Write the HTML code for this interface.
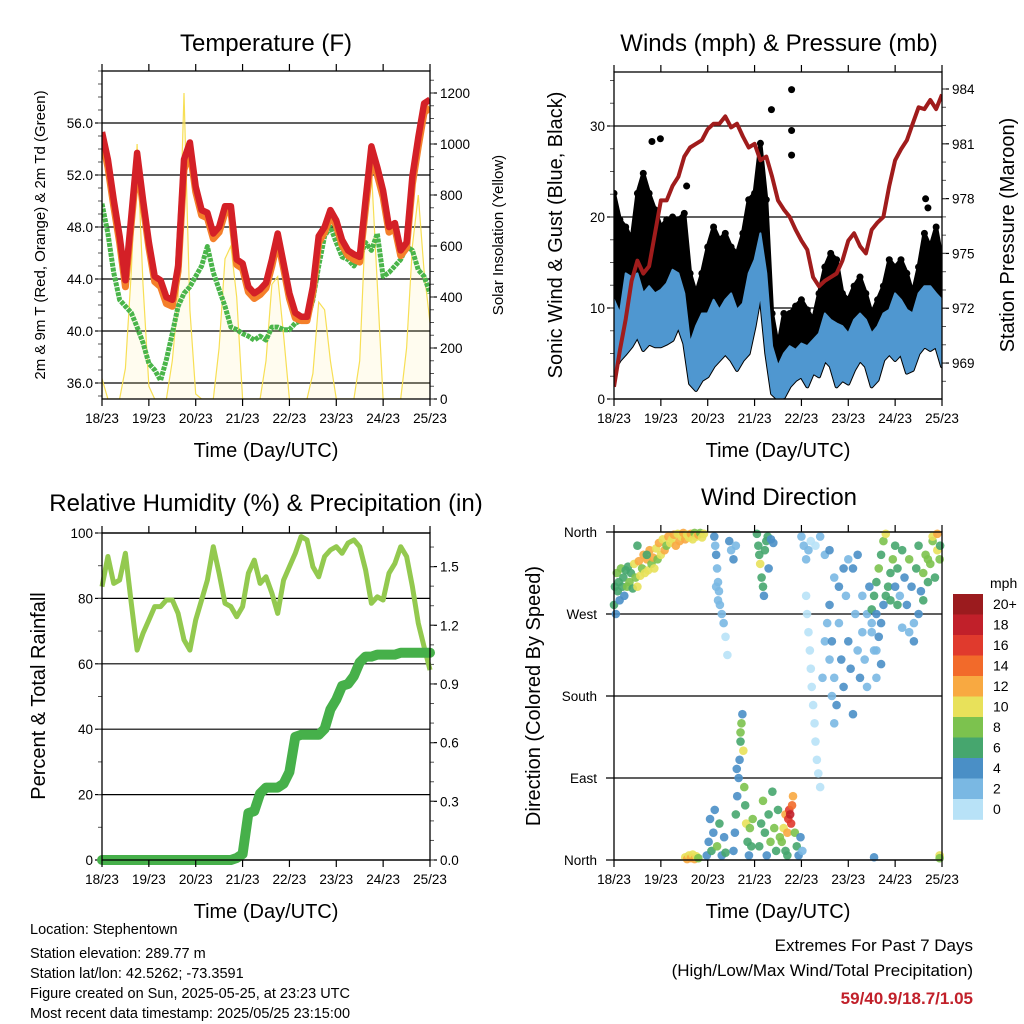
<!DOCTYPE html>
<html><head><meta charset="utf-8"><title>Station Meteogram</title>
<style>
html,body{margin:0;padding:0;background:#fff}
svg{display:block;font-family:"Liberation Sans",Arial,sans-serif}
</style></head>
<body>
<svg id="chart" width="1024" height="1024" viewBox="0 0 1024 1024" xmlns="http://www.w3.org/2000/svg">
<rect width="1024" height="1024" fill="#fff"/>
<g id="p1"></g>
<g id="p2"></g>
<g id="p3"></g>
<g id="p4"></g>
<g font-size="14.5" fill="#000">
<text x="30" y="934">Location: Stephentown</text>
<text x="30" y="958">Station elevation: 289.77 m</text>
<text x="30" y="978">Station lat/lon: 42.5262; -73.3591</text>
<text x="30" y="998">Figure created on Sun, 2025-05-25, at 23:23 UTC</text>
<text x="30" y="1018">Most recent data timestamp: 2025/05/25 23:15:00</text>
</g>
<g text-anchor="end">
<text x="973" y="951" font-size="17">Extremes For Past 7 Days</text>
<text x="973" y="976" font-size="17">(High/Low/Max Wind/Total Precipitation)</text>
<text x="973" y="1004" font-size="17" font-weight="bold" fill="#c1202a">59/40.9/18.7/1.05</text>
</g>
</svg>
<script>
// ---- shared time axis ----
const dayLabels = ["18/23","19/23","20/23","21/23","22/23","23/23","24/23","25/23"];
// ---- temperature panel data (3-hour steps, days 0..7) ----
const temp2m = [55.3,53.2,50.1,47.3,43.9,48.8,53.7,50.1,46.8,44.2,43.9,42.6,42.4,45.0,53.2,54.5,51.1,49.3,49.1,47.5,48.0,49.6,49.6,45.5,45.2,43.4,42.9,43.2,43.7,45.5,47.5,45.2,42.9,41.4,41.1,41.1,43.4,47.3,48.0,49.3,48.5,47.0,46.2,45.9,45.7,50.1,54.2,52.6,50.8,48.0,48.3,46.2,46.8,51.9,54.9,57.5,57.8];
const temp9m = [54.8,52.6,49.6,46.8,43.4,48.3,53.0,49.7,46.4,43.8,43.4,42.1,41.9,44.6,52.4,53.9,50.7,48.9,48.7,47.1,47.6,49.1,49.2,45.1,44.8,43.0,42.5,42.8,43.3,45.0,47.0,44.8,42.5,41.0,40.8,40.8,43.0,46.8,47.6,48.9,48.1,46.6,45.8,45.5,45.3,49.5,53.4,52.0,50.3,47.6,47.9,45.8,46.4,51.3,54.2,56.8,57.2];
const dewpoint = [49.8,47.5,44.5,42.4,41.9,41.4,40.3,39.1,37.5,37.0,36.2,37.8,39.8,41.9,42.9,43.4,44.2,45.0,46.5,44.5,43.2,41.9,40.3,40.1,39.8,39.6,39.3,39.6,39.3,40.3,40.3,40.1,40.1,40.6,40.8,40.8,42.4,45.0,47.3,48.0,46.8,45.7,45.5,45.0,45.7,46.8,46.2,47.5,44.2,44.5,45.0,45.5,46.5,46.2,44.7,44.2,42.9];
const solar = [80,0,0,0,120,500,1000,450, 50,0,0,0,150,400,1200,350, 20,0,0,0,200,550,600,400, 0,0,0,0,150,450,480,250, 0,0,0,0,100,380,350,150, 0,0,0,0,150,700,900,450, 0,0,0,0,200,600,800,500, 300];
const tempTicks = [36,40,44,48,52,56];
const solarTicks = [0,200,400,600,800,1000,1200];
// ---- winds panel data ----
const pressure = [967.7,969.7,971.4,973.5,974.6,973.9,974.3,976.1,977.9,977.9,978.7,979.2,980.3,980.8,981.0,981.2,981.8,982.1,982.1,982.5,981.9,982.1,981.4,980.8,981.0,980.1,980.3,979.2,977.9,977.4,977.0,976.3,975.7,975.2,973.7,973.2,973.5,973.7,973.9,974.6,975.7,976.1,975.4,975.0,976.3,976.7,977.0,978.7,980.1,980.7,981.2,982.1,983.0,982.9,983.4,982.9,983.7];
const sonicHigh = [10.9,9.4,13.8,13.4,13.8,11.6,12.4,11.6,12.0,12.7,14.2,13.8,11.6,6.1,8.0,9.4,9.4,10.9,9.8,10.9,11.6,9.8,10.5,13.8,15.3,18.2,13.8,5.8,3.6,5.0,5.8,5.4,6.1,5.8,6.5,7.2,9.4,8.7,8.3,8.0,7.2,8.7,9.4,8.7,7.2,8.0,9.4,9.8,11.6,10.9,9.8,9.4,11.6,12.4,12.4,11.6,10.9];
const sonicLow = [3.2,4.3,5.0,5.8,6.9,5.4,6.1,5.8,5.8,6.1,6.5,8.0,6.1,1.7,1.0,2.1,2.5,3.6,4.3,5.0,4.3,3.2,4.3,5.0,8.0,11.6,5.0,0.6,0.0,0.2,1.4,2.1,2.5,1.4,2.9,2.5,4.3,3.6,1.4,2.1,1.7,3.2,4.3,3.6,1.4,2.1,4.3,5.0,4.3,5.0,2.9,3.2,5.0,5.8,5.4,5.8,3.6];
const gustHigh = [22.6,19.7,18.9,17.5,22.6,24.8,22.6,20.8,18.9,19.7,20.0,19.7,20.4,13.8,11.6,13.8,16.7,18.9,17.5,18.2,16.7,16.0,18.2,21.9,22.6,28.1,21.9,9.4,5.8,9.4,9.4,10.2,10.9,9.8,8.7,11.6,14.5,16.0,15.3,11.6,10.9,12.4,13.4,11.6,9.4,10.9,12.4,15.3,14.5,15.3,13.8,11.6,14.5,18.2,16.7,18.9,15.3];
const gustOutlierDay = [0.81,0.99,3.36,3.79,3.79,3.79,1.55,6.65,6.7];
const gustOutlierMph = [28.3,28.6,31.8,34.0,29.5,26.8,23.4,22.0,21.0];
const windTicks = [0,10,20,30];
const pressureTicks = [969,972,975,978,981,984];
// ---- humidity panel data ----
const humidity = [83.6,92.8,84.6,85.6,93.8,78.5,64.2,69.3,73.4,77.5,77.5,79.5,79.5,75.4,67.3,64.2,73.4,79.5,85.6,95.8,87.7,78.5,77.5,74.4,77.5,87.7,91.7,84.6,86.6,81.6,75.4,85.6,89.7,93.8,98.9,97.9,89.7,86.6,92.8,94.8,95.8,93.8,96.9,97.9,95.8,88.7,78.5,80.5,79.5,87.7,90.7,95.8,92.8,83.6,72.4,65.2,58.1];
const rainfall = [0,0,0,0,0,0,0,0,0,0,0,0,0,0,0,0,0,0,0,0,0,0,0,0.01,0.03,0.24,0.25,0.34,0.37,0.37,0.37,0.39,0.45,0.63,0.64,0.64,0.64,0.64,0.67,0.77,0.82,0.89,0.90,0.94,1.01,1.04,1.04,1.05,1.05,1.05,1.05,1.06,1.06,1.06,1.06,1.06,1.06];
const humidityTicks = [0,20,40,60,80,100];
const rainTicks = [0.0,0.3,0.6,0.9,1.2,1.5];
// ---- wind direction panel data ----
const dirDay = [
0.0,0.02,0.04,0.06,0.08,0.1,0.12,0.15,0.18,0.2, 0.22,0.25,0.28,0.3,0.33,0.36,0.4,0.43,0.46,0.5, 0.53,0.56,0.6,0.63,0.66,0.7,0.73,0.76,0.8,0.83, 0.86,0.9,0.93,0.96,1.0,1.04,1.08,1.12,1.16,1.2, 1.24,1.28,1.32,1.36,1.4,1.44,1.48,1.52,1.56,1.6, 1.64,1.68,1.72,1.76,1.8,1.84,1.88,1.92,0.5,0.7,
1.52,1.56,1.6,1.64,1.68,1.72,1.76,1.8,
2.14,2.16,2.18,2.2,2.22,2.24,2.26,2.3,2.34,2.38,2.42,2.46,2.5,2.55,2.6,2.18,2.22,
1.98,2.02,2.05,2.08,2.12,2.15,2.2,2.25,2.3,2.35,2.38,
2.55,2.58,2.6,2.63,2.66,2.68,2.7,2.72,2.74,2.76,2.78,2.8,2.82,2.85,2.88,2.9,2.93,2.96,2.62,2.7,
3.05,3.08,3.1,3.12,3.15,3.18,3.2,3.22,3.25,3.28,3.3,3.35,3.4,
3.1,3.14,3.18,3.22,3.26,3.3,3.34,3.38,3.42,3.46,3.5,3.54,
3.58,3.62,3.66,3.7,3.72,3.74,3.76,3.78,3.8,3.82,3.86,3.9,3.94,3.98,4.02,3.66,3.7,
4.0,4.05,4.1,4.15,4.2,4.3,4.4,4.5,4.6,
4.1,4.12,4.15,4.18,4.2,4.22,4.25,4.28,4.3,4.33,4.36,4.4,4.45,4.5,4.55,4.6,4.65,4.7,
4.6,4.65,4.7,4.75,4.8,4.85,4.9,4.95,5.0,5.05,5.1,5.15,5.2,5.25,5.3,5.35,5.4,5.45,5.5,5.55,5.6,5.65,5.7,5.75,4.7,4.8,4.9,5.0,5.1,5.2,5.3,5.4,5.5,5.6,
5.5,5.55,5.6,5.65,5.7,5.75,5.8,5.85,5.9,5.95,6.0,6.05,5.6,5.7,5.8,5.9,
6.0,6.05,6.1,6.15,6.2,6.25,6.3,6.35,6.4,6.45,6.5,6.55,6.6,6.65,6.7,6.75,6.8,6.85,6.9,6.95,6.3,6.4,6.5,6.6,6.7,6.8,6.9,6.96,6.95,6.15,
5.55,6.95];
const dirDeg = [
280,300,270,315,295,305,285,320,300,310, 290,318,300,322,305,315,298,325,310,300, 328,312,320,335,315,330,318,340,325,332, 320,342,330,348,335,352,340,345,355,348, 352,357,345,358,350,355,359,352,357,354, 358,352,359,355,357,359,354,358,345,335,
3,1,5,2,6,1,4,2,
355,345,335,320,305,295,280,270,260,245,225,350,340,330,345,300,285,
5,20,45,10,30,55,15,40,5,25,8,
10,30,50,70,90,110,130,150,160,120,80,60,40,20,5,35,15,45,100,140,
358,345,335,325,310,300,290,340,350,355,320,352,348,
15,40,65,30,5,50,20,75,35,10,55,25,
20,35,50,30,45,55,50,40,60,70,30,15,5,25,10,10,5,
355,345,330,340,350,345,355,335,340,
290,270,250,230,210,190,170,150,130,110,95,80,200,240,260,220,180,150,
280,240,200,170,260,220,190,290,240,210,160,270,230,200,250,220,190,300,260,230,200,245,215,280,310,300,320,330,320,335,290,270,250,230,
275,290,305,320,335,350,358,300,285,330,345,280,270,260,290,315,
300,320,290,340,310,280,330,300,260,320,345,295,315,335,305,325,350,310,340,330,250,240,270,285,330,355,358,345,5,255,
3,2];
const dirSpeed = [
6,7,5,8,6,7,5,8,7,6, 5,7,8,6,9,7,6,10,8,11, 12,10,9,13,11,12,10,12,9,13, 11,10,8,12,10,11,13,9,12,10, 11,12,13,10,12,11,12,13,10,11, 12,11,9,10,12,8,11,10,6,7,
11,12,10,12,11,13,10,9,
4,3,4,3,2,3,2,2,3,1,1,4,3,4,3,2,3,
5,4,5,7,4,5,8,7,5,4,6,
5,4,6,4,5,4,6,9,5,11,8,7,10,6,4,8,7,9,4,8,
7,6,7,10,6,7,5,6,7,6,4,5,4,
6,7,8,6,5,7,8,6,9,7,6,8,
9,10,12,13,16,17,18,17,14,12,8,6,5,4,3,6,7,
3,2,3,3,1,1,2,3,4,
1,1,1,0,1,1,1,1,1,1,1,1,2,2,3,2,3,2,
4,4,3,4,3,4,4,3,4,4,4,3,3,4,3,3,2,4,3,2,3,4,4,4,3,4,4,3,4,4,3,2,2,3,
6,7,6,8,7,9,10,7,6,8,7,6,5,4,6,7,
4,6,3,7,4,5,8,4,3,6,7,4,8,9,6,8,9,7,10,8,3,4,5,6,8,11,12,7,10,3,
4,9];
const speedBinLabels = ["20+","18","16","14","12","10","8","6","4","2","0"];
const speedBinColors = ["#9b1b1e","#c1202a","#e03a2d","#f26a2a","#f8a941","#e8e15a","#7cc24e","#46a66e","#4a8fc6","#7ab8e3","#b8e2f7"];
const dirTickLabels = ["North","East","South","West","North"];
const dirTickValues = [0,90,180,270,360];

// ---------------- drawing ----------------
const NS = "http://www.w3.org/2000/svg";
function mk(parent, tag, attrs) {
  const el = document.createElementNS(NS, tag);
  for (const k in attrs) el.setAttribute(k, attrs[k]);
  parent.appendChild(el);
  return el;
}
function txt(parent, x, y, s, size, anchor, name, extra) {
  const t = mk(parent, "text", Object.assign({x: x, y: y, "font-size": size, "text-anchor": anchor || "middle"}, extra || {}));
  t.textContent = s;
  
  
  return t;
}
function frame(g, P, name) {
  const xs = d => P.x0 + d * (P.x1 - P.x0) / 7;
  for (let i = 0; i < dayLabels.length; i++) {
    const x = xs(i);
    const t1 = mk(g, "line", {x1: x, y1: P.y1, x2: x, y2: P.y1 + 7, stroke: "#000", "stroke-width": 1.2});
    
    
    const t2 = mk(g, "line", {x1: x, y1: P.y0, x2: x, y2: P.y0 - 7, stroke: "#000", "stroke-width": 1.2});
    
    
    txt(g, x, P.y1 + 24, dayLabels[i], 13.5, "middle", "x-tick-label");
  }
  const b = mk(g, "rect", {x: P.x0, y: P.y0, width: P.x1 - P.x0, height: P.y1 - P.y0, fill: "none", stroke: "#000", "stroke-width": 1.3});
  
  
  txt(g, (P.x0 + P.x1) / 2, P.y1 + 58, "Time (Day/UTC)", 20, "middle", "x-axis-title");
  return xs;
}
function leftAxis(g, P, ticks, ys, fmt, minorStep, grid) {
  for (const v of ticks) {
    const y = ys(v);
    if (grid) {
      const gl = mk(g, "line", {x1: P.x0, y1: y, x2: P.x1, y2: y, stroke: "#000", "stroke-width": 1.2});
      
      
    }
    const t = mk(g, "line", {x1: P.x0, y1: y, x2: P.x0 - 7, y2: y, stroke: "#000", "stroke-width": 1.2});
    
    
    txt(g, P.x0 - 9, y + 5, fmt(v), 13.5, "end", "y-tick-label");
  }
  if (minorStep) {
    const lo = Math.min(...ticks), hi = Math.max(...ticks);
    for (let v = lo - minorStep * 4; v <= hi + minorStep * 4; v += minorStep) {
      const y = ys(v);
      if (y < P.y0 || y > P.y1) continue;
      const t = mk(g, "line", {x1: P.x0, y1: y, x2: P.x0 - 4, y2: y, stroke: "#555", "stroke-width": 1});
      
      
    }
  }
}
function rightAxis(g, P, ticks, ys, fmt, minorStep) {
  for (const v of ticks) {
    const y = ys(v);
    const t = mk(g, "line", {x1: P.x1, y1: y, x2: P.x1 + 7, y2: y, stroke: "#000", "stroke-width": 1.2});
    
    
    txt(g, P.x1 + 10, y + 5, fmt(v), 13.5, "start", "y2-tick-label");
  }
  if (minorStep) {
    const lo = Math.min(...ticks), hi = Math.max(...ticks);
    for (let v = lo - minorStep * 6; v <= hi + minorStep * 6; v += minorStep) {
      const y = ys(v);
      if (y < P.y0 || y > P.y1) continue;
      const t = mk(g, "line", {x1: P.x1, y1: y, x2: P.x1 + 4, y2: y, stroke: "#555", "stroke-width": 1});
      
      
    }
  }
}
function pts(arr, xs, ys) {
  const step = 7 / (arr.length - 1);
  return arr.map((v, i) => xs(i * step).toFixed(1) + "," + ys(v).toFixed(1));
}
function rotTitle(g, x, y, s, size, name) {
  return txt(g, x, y, s, size, "middle", name, {transform: "rotate(-90 " + x + " " + y + ")"});
}

// ===== Panel 1: temperature =====
(function () {
  const g = document.getElementById("p1");
  const P = {x0: 102, x1: 430, y0: 71, y1: 399};
  const ys = T => 123 + (56 - T) * 13;
  const ysW = W => 399 - W * 0.255;
  const xsf = d => P.x0 + d * (P.x1 - P.x0) / 7;
  txt(g, 266, 51, "Temperature (F)", 24, "middle", "chart-title");
  const clip = mk(g, "clipPath", {id: "c1"});
  mk(clip, "rect", {x: P.x0, y: P.y0, width: P.x1 - P.x0, height: P.y1 - P.y0});
  leftAxis(g, P, tempTicks, ys, v => v.toFixed(1), 1, true);
  rightAxis(g, P, solarTicks, ysW, v => String(v), 50);
  const sg = mk(g, "g", {"clip-path": "url(#c1)"});
  const sp = pts(solar, xsf, ysW);
  const sa = mk(sg, "polygon", {points: xsf(0) + "," + P.y1 + " " + sp.join(" ") + " " + xsf(7) + "," + P.y1, fill: "#fbe97a", "fill-opacity": 0.12, stroke: "none"});
  
  
  const sl = mk(sg, "polyline", {points: sp.join(" "), fill: "none", stroke: "#f7df55", "stroke-width": 1.2});
  
  
  const dl = mk(sg, "polyline", {points: pts(dewpoint, xsf, ys).join(" "), fill: "none", stroke: "#4ab54a", "stroke-width": 5, "stroke-dasharray": "4 1", "stroke-linejoin": "round"});
  
  
  const ol = mk(sg, "polyline", {points: pts(temp9m, xsf, ys).join(" "), fill: "none", stroke: "#f47f2a", "stroke-width": 7, "stroke-linejoin": "round"});
  
  
  const rl = mk(sg, "polyline", {points: pts(temp2m, xsf, ys).join(" "), fill: "none", stroke: "#d42027", "stroke-width": 6.5, "stroke-linejoin": "round"});
  
  
  frame(g, P, "temperature");
  rotTitle(g, 45, 235, "2m & 9m T (Red, Orange) & 2m Td (Green)", 15, "y-axis-title");
  rotTitle(g, 503, 235, "Solar Insolation (Yellow)", 15, "y2-axis-title");
})();

// ===== Panel 2: winds =====
(function () {
  const g = document.getElementById("p2");
  const P = {x0: 614, x1: 942, y0: 72, y1: 399};
  const ys = v => 399 - v * 9.1;
  const ysP = p => 89 + (984 - p) * 18.27;
  const xsf = d => P.x0 + d * (P.x1 - P.x0) / 7;
  txt(g, 779, 51, "Winds (mph) & Pressure (mb)", 24, "middle", "chart-title");
  const clip = mk(g, "clipPath", {id: "c2"});
  mk(clip, "rect", {x: P.x0, y: P.y0 - 10, width: P.x1 - P.x0, height: P.y1 - P.y0 + 10});
  leftAxis(g, P, windTicks, ys, v => String(v), 2.5, true);
  rightAxis(g, P, pressureTicks, ysP, v => String(v), 1);
  const cg = mk(g, "g", {"clip-path": "url(#c2)"});
  const gh = pts(gustHigh, xsf, ys), sl = pts(sonicLow, xsf, ys).reverse();
  const gb = mk(cg, "polygon", {points: gh.join(" ") + " " + sl.join(" "), fill: "#000", stroke: "#000", "stroke-width": 4, "stroke-linejoin": "round"});
  
  
  const step = 7 / (gustHigh.length - 1);
  gustHigh.forEach((v, i) => {
    const c = mk(cg, "circle", {cx: xsf(i * step), cy: ys(v), r: 3.5, fill: "#000"});
    
    
  });
  gustOutlierDay.forEach((d, i) => {
    const c = mk(cg, "circle", {cx: xsf(d), cy: ys(gustOutlierMph[i]), r: 3.5, fill: "#000"});
    
    
  });
  const shp = pts(sonicHigh, xsf, ys), slp = pts(sonicLow, xsf, ys).reverse();
  const sb = mk(cg, "polygon", {points: shp.join(" ") + " " + slp.join(" "), fill: "#4f97d0", stroke: "#4f97d0", "stroke-width": 2, "stroke-linejoin": "round"});
  
  
  const pl = mk(cg, "polyline", {points: pts(pressure, xsf, ysP).join(" "), fill: "none", stroke: "#a01c1c", "stroke-width": 4, "stroke-linejoin": "round"});
  
  
  frame(g, P, "winds");
  rotTitle(g, 562, 235, "Sonic Wind & Gust (Blue, Black)", 20, "y-axis-title");
  rotTitle(g, 1014, 235, "Station Pressure (Maroon)", 20, "y2-axis-title");
})();

// ===== Panel 3: humidity & rainfall =====
(function () {
  const g = document.getElementById("p3");
  const P = {x0: 102, x1: 430, y0: 533, y1: 860};
  const ys = v => 860 - v * 3.27;
  const ysR = v => 860 - v * 195.6;
  const xsf = d => P.x0 + d * (P.x1 - P.x0) / 7;
  txt(g, 266, 511, "Relative Humidity (%) & Precipitation (in)", 24, "middle", "chart-title");
  leftAxis(g, P, humidityTicks, ys, v => String(v), 10, true);
  rightAxis(g, P, rainTicks, ysR, v => v.toFixed(1), 0.1);
  const hl = mk(g, "polyline", {points: pts(humidity, xsf, ys).join(" "), fill: "none", stroke: "#93c94f", "stroke-width": 5, "stroke-linejoin": "round"});
  
  
  const rl = mk(g, "polyline", {points: pts(rainfall, xsf, ysR).join(" "), fill: "none", stroke: "#46b04a", "stroke-width": 10, "stroke-linejoin": "round", "stroke-linecap": "round"});
  
  
  frame(g, P, "humidity");
  rotTitle(g, 45, 696, "Percent & Total Rainfall", 20, "y-axis-title");
})();

// ===== Panel 4: wind direction =====
(function () {
  const g = document.getElementById("p4");
  const P = {x0: 614, x1: 942, y0: 532, y1: 860};
  const ys = d => 860 - d * 328 / 360;
  const xsf = d => P.x0 + d * (P.x1 - P.x0) / 7;
  txt(g, 779, 505, "Wind Direction", 24, "middle", "chart-title");
  for (let i = 0; i < dirTickValues.length; i++) {
    const y = ys(dirTickValues[i]);
    const gl = mk(g, "line", {x1: P.x0 - 8, y1: y, x2: P.x1, y2: y, stroke: "#000", "stroke-width": 1.2});
    
    
    txt(g, P.x0 - 17, y + 5, dirTickLabels[i], 13.5, "end", "direction-tick-label");
  }
  function colorFor(s) {
    let idx = Math.floor(s / 2);
    if (idx > 10) idx = 10;
    return speedBinColors[10 - idx];
  }
  const cg = mk(g, "g", {});
  dirDay.forEach((d, i) => {
    const c = mk(cg, "circle", {cx: xsf(d), cy: ys(dirDeg[i]), r: 4.3, fill: colorFor(dirSpeed[i]), "fill-opacity": 0.9});
    
    
  });
  frame(g, P, "wind-direction");
  rotTitle(g, 540, 696, "Direction (Colored By Speed)", 20, "y-axis-title");
  const lg = mk(g, "g", {});
  
  
  txt(lg, 990, 588, "mph", 14, "start", "legend-title");
  const bh = 20.5;
  speedBinLabels.forEach((lab, i) => {
    const r = mk(lg, "rect", {x: 953, y: 594 + i * bh, width: 30, height: bh + 0.3, fill: speedBinColors[i]});
    
    
    txt(lg, 993, 594 + i * bh + 15, lab, 14, "start", "legend-label");
  });
})();
</script>
</body></html>
